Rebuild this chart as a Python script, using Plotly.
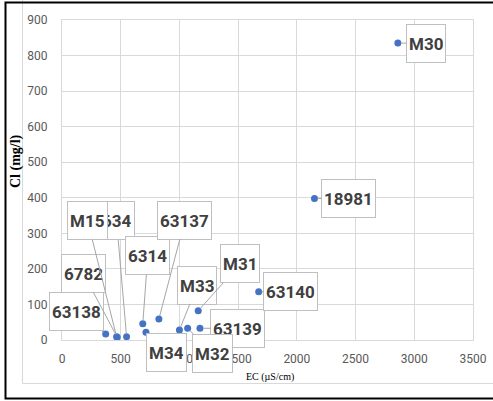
import plotly.graph_objects as go

# ---- data ----
labels = ["63138", "6782", "634", "M15", "6314", "63137", "M34", "M33",
          "M31", "63139", "M32", "63140", "18981", "M30"]
ec_values = [372, 470, 550, 465, 688, 825, 715, 1000, 1160, 1175, 1070, 1675, 2150, 2860]
cl_values = [17, 8, 9, 9, 46, 59, 22, 28, 82, 33, 33, 136, 398, 835]

x_ticks = [0, 500, 1000, 1500, 2000, 2500, 3000, 3500]
y_ticks = [0, 100, 200, 300, 400, 500, 600, 700, 800, 900]

# ---- layout helpers (pixel offsets of the label boxes from their points) ----
label_offsets = [(-29, -22), (-34, -64), (-10, -116), (-29, -116), (5, -68), (26, -99),
                 (21, 20), (18, -45), (42, -47), (38, 0), (25, 25), (32, 0), (34, 0), (28, 0)]

W, H = 493, 401
L, R, T, B = 62, 20, 20, 61
PW, PH = W - L - R, H - T - B


def px(xp):
    return (xp - L) / PW


def py(yp):
    return (H - B - yp) / PH


sans = "Roboto, Liberation Sans, sans-serif"
serif = "Liberation Serif, Times New Roman, serif"

fig = go.Figure()
fig.add_trace(go.Scatter(
    x=ec_values, y=cl_values, mode="markers",
    marker=dict(color="#4472c4", size=7),
    hoverinfo="skip", showlegend=False,
))

annotations = []
for name, xv, yv, (ox, oy) in zip(labels, ec_values, cl_values, label_offsets):
    annotations.append(dict(
        x=xv, y=yv, xref="x", yref="y", text=name,
        showarrow=True, arrowhead=0, arrowwidth=1, arrowcolor="#a6a6a6",
        ax=ox, ay=oy, standoff=3,
        font=dict(family=sans, size=17, color="#404040", weight="bold"),
        bgcolor="white", bordercolor="#bfbfbf", borderwidth=1, borderpad=2,
        height=33,
    ))

annotations.append(dict(
    x=px(270), y=py(377), xref="paper", yref="paper", text="EC (µS/cm)",
    showarrow=False, xanchor="center", yanchor="middle",
    font=dict(family=serif, size=10, color="#000000"),
))
annotations.append(dict(
    x=px(16), y=py(161), xref="paper", yref="paper", text="Cl (mg/l)",
    showarrow=False, xanchor="center", yanchor="middle", textangle=-90,
    font=dict(family=serif, size=14, color="#000000", weight="bold"),
))


def frame_path(xl, yt, yb, xr):
    return (f"M {px(xr)},{py(yt)} L {px(xl)},{py(yt)} "
            f"L {px(xl)},{py(yb)} L {px(xr)},{py(yb)}")


shapes = [
    # inner light chart-area frame (left + bottom edges)
    dict(type="path", xref="paper", yref="paper",
         path=f"M {px(22.5)},{py(-5)} L {px(22.5)},{py(383.5)} L {px(498)},{py(383.5)}",
         line=dict(color="#d9d9d9", width=1), layer="below"),
    # outer black frame (left, top, bottom edges)
    dict(type="path", xref="paper", yref="paper",
         path=frame_path(5.5, 2.5, 398.5, 498),
         line=dict(color="#000000", width=2), layer="above"),
]

fig.update_layout(
    width=W, height=H,
    margin=dict(l=L, r=R, t=T, b=B, autoexpand=False),
    paper_bgcolor="white", plot_bgcolor="white",
    annotations=annotations, shapes=shapes,
    showlegend=False,
)
fig.update_xaxes(
    range=[0, 3500], tickvals=x_ticks, ticktext=[str(v) for v in x_ticks],
    showgrid=True, gridcolor="#d9d9d9", gridwidth=1, zeroline=False,
    showline=True, linecolor="#d9d9d9", mirror=True, automargin=False,
    tickfont=dict(family=sans, size=12, color="#595959"),
    ticks="", ticklabelstandoff=8,
)
fig.update_yaxes(
    range=[0, 900], tickvals=y_ticks, ticktext=[str(v) for v in y_ticks],
    showgrid=True, gridcolor="#d9d9d9", gridwidth=1, zeroline=False,
    showline=True, linecolor="#d9d9d9", mirror=True, automargin=False,
    tickfont=dict(family=sans, size=12, color="#595959"),
    ticks="", ticklabelstandoff=11,
)

fig.write_html(
    "out.html",
    config={"displayModeBar": False},
    post_script="document.body.style.margin='0';document.body.style.overflow='hidden';",
)
